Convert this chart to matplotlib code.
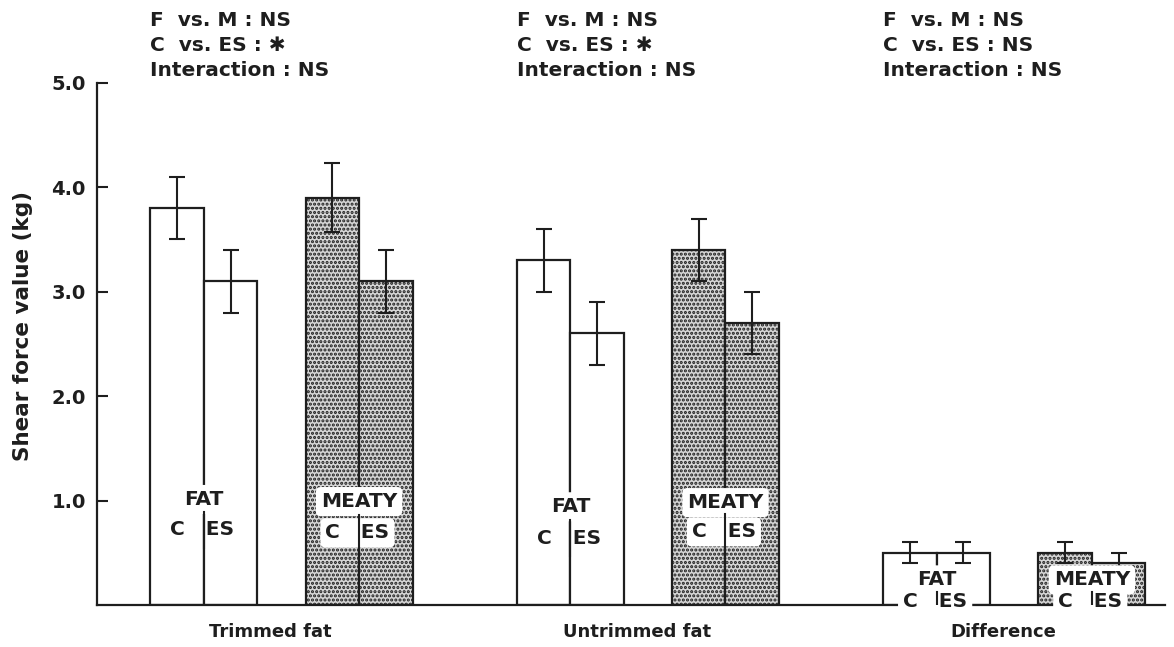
import matplotlib
matplotlib.use("Agg")
import matplotlib.pyplot as plt

# Shear force (kg) by group: FAT-C, FAT-ES, MEATY-C, MEATY-ES
groups = ["Trimmed fat", "Untrimmed fat", "Difference"]
fat_c = [3.8, 3.3, 0.5]
fat_es = [3.1, 2.6, 0.5]
meaty_c = [3.9, 3.4, 0.5]
meaty_es = [3.1, 2.7, 0.4]
fat_c_err = [0.3, 0.3, 0.1]
fat_es_err = [0.3, 0.3, 0.1]
meaty_c_err = [0.33, 0.3, 0.1]
meaty_es_err = [0.3, 0.3, 0.1]
stats = [
    ["F  vs. M : NS", "C  vs. ES : \u2731", "Interaction : NS"],
    ["F  vs. M : NS", "C  vs. ES : \u2731", "Interaction : NS"],
    ["F  vs. M : NS", "C  vs. ES : NS", "Interaction : NS"],
]
yticks = [1.0, 2.0, 3.0, 4.0, 5.0]

INK = "#1e1e1e"
plt.rcParams["font.family"] = ["DejaVu Sans"]
plt.rcParams["hatch.linewidth"] = 1.5
plt.rcParams["hatch.color"] = "#5c5c5c"

fig = plt.figure(figsize=(11.74, 6.47), dpi=100)
ax = fig.add_axes([0.0826, 0.065, 0.9094, 0.807])

group_start = [1.5, 8.35, 15.2]
offsets = [0.0, 1.0, 2.9, 3.9]
series = [(fat_c, fat_c_err), (fat_es, fat_es_err),
          (meaty_c, meaty_c_err), (meaty_es, meaty_es_err)]

# vertical placement of the in-bar legends (name row, C|ES row) per group
name_y = [(1.01, 0.99), (0.94, 0.98), (0.24, 0.24)]
ce_y = [(0.72, 0.69), (0.64, 0.70), (0.03, 0.03)]
stat_y = [5.594, 5.354, 5.12]

for gi, g0 in enumerate(group_start):
    for si, (vals, errs) in enumerate(series):
        x = g0 + offsets[si]
        meaty = si >= 2
        ax.bar(x, vals[gi], width=1.0,
               facecolor="#d6d6d6" if meaty else "white",
               hatch="...." if meaty else None,
               edgecolor=INK, linewidth=1.6, zorder=2)
        ax.errorbar(x, vals[gi], yerr=errs[gi], fmt="none",
                    ecolor=INK, elinewidth=1.5, capsize=6,
                    capthick=1.5, zorder=3)

    # group label under the axis
    ax.text(g0 + 1.75, -0.26, groups[gi], ha="center", va="center",
            fontsize=13, fontweight="bold", color=INK, clip_on=False)
    # statistics block above
    for li, line in enumerate(stats[gi]):
        ax.text(g0 - 0.5, stat_y[li], line, ha="left", va="center",
                fontsize=14.5, fontweight="bold", color=INK,
                clip_on=False)

    # in-bar legends: FAT / MEATY with C | ES
    small = gi == 2
    for k, (name, base) in enumerate((("FAT", g0 + 0.5),
                                      ("MEATY", g0 + 3.4))):
        yn = name_y[gi][k]
        yc = ce_y[gi][k]
        boxed = k == 1 or small
        box = dict(boxstyle="round,pad=0.25", facecolor="white",
                   edgecolor="none")
        ax.text(base, yn, name, ha="center", va="center", fontsize=14.5,
                fontweight="bold", color=INK, bbox=box, zorder=5)
        ax.text(base - 0.03, yc, "C   ES", ha="center", va="center",
                fontsize=14.5, fontweight="bold", color=INK,
                bbox=box if boxed else None, zorder=5)
        h = 0.09 if small else 0.17
        ax.plot([base, base], [yc - h, yc + h], color=INK,
                lw=1.5, zorder=6)

ax.set_xlim(0, 19.96)
ax.set_ylim(0, 5.0)
ax.set_yticks(yticks)
ax.set_yticklabels([f"{v:.1f}" for v in yticks], fontsize=14,
                   fontweight="bold", color=INK)
ax.tick_params(axis="y", direction="in", length=8, width=1.5, pad=8,
               color=INK)
ax.set_xticks([])
for s in ("top", "right"):
    ax.spines[s].set_visible(False)
for s in ("left", "bottom"):
    ax.spines[s].set_linewidth(1.6)
    ax.spines[s].set_color(INK)
ax.set_ylabel("Shear force value (kg)", fontsize=15.5, fontweight="bold",
              color=INK)
ax.yaxis.set_label_coords(-0.06, 0.535)

fig.savefig("out.png", dpi=100)
